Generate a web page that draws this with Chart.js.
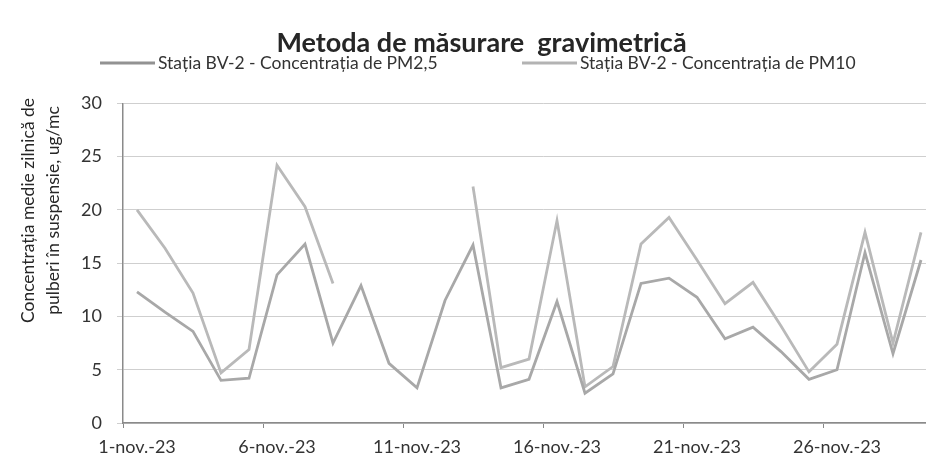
<!DOCTYPE html>
<html>
<head>
<meta charset="utf-8">
<script src="https://cdn.jsdelivr.net/npm/chart.js@4.4.1/dist/chart.umd.min.js"></script>
<style>
html,body{margin:0;padding:0;background:#fff;overflow:hidden;width:926px;height:460px}
canvas{display:block}
</style>
</head>
<body>
<canvas id="c" width="995" height="460"></canvas>
<script>
const categories = ['1-nov.-23','2-nov.-23','3-nov.-23','4-nov.-23','5-nov.-23','6-nov.-23','7-nov.-23','8-nov.-23','9-nov.-23','10-nov.-23',
  '11-nov.-23','12-nov.-23','13-nov.-23','14-nov.-23','15-nov.-23','16-nov.-23','17-nov.-23','18-nov.-23','19-nov.-23','20-nov.-23',
  '21-nov.-23','22-nov.-23','23-nov.-23','24-nov.-23','25-nov.-23','26-nov.-23','27-nov.-23','28-nov.-23','29-nov.-23','30-nov.-23'];
const pm25 = [12.3,10.4,8.6,4.0,4.2,13.9,16.8,7.5,12.9,5.6,3.3,11.5,16.7,3.3,4.1,11.4,2.8,4.6,13.1,13.6,11.8,7.9,9.0,6.7,4.1,5.0,16.0,6.5,15.3,null];
const pm10 = [20.0,16.4,12.2,4.7,6.9,24.2,20.3,13.1,null,null,null,null,22.2,5.2,6.0,19.0,3.4,5.3,16.8,19.3,15.3,11.2,13.2,9.1,4.8,7.4,17.9,7.5,17.9,null];
const seriesNames = ['Stația BV-2 - Concentrația de PM2,5','Stația BV-2 - Concentrația de PM10'];
const yTicks = [0,5,10,15,20,25,30];
const titleText = 'Metoda de măsurare  gravimetrică';
const yTitleLines = ['Concentrația medie zilnică de','pulberi în suspensie, ug/mc'];

const FONT = 'Lato, "Open Sans", sans-serif';

const legendPlugin = {
  id: 'customLegend',
  afterDraw(chart) {
    const ctx = chart.ctx;
    ctx.save();
    ctx.font = '17.5px ' + FONT;
    ctx.textBaseline = 'middle';
    ctx.textAlign = 'left';
    const starts = [100, 522];
    chart.data.datasets.forEach((ds, i) => {
      const x = starts[i], y = 63;
      ctx.strokeStyle = ds.legendColor;
      ctx.lineWidth = 3;
      ctx.beginPath(); ctx.moveTo(x, y); ctx.lineTo(x + 55, y); ctx.stroke();
      ctx.fillStyle = '#333';
      ctx.fillText(ds.label, x + 58, y);
    });
    ctx.restore();
  }
};

const yTitlePlugin = {
  id: 'yTitle',
  afterDraw(chart) {
    const ctx = chart.ctx;
    const a = chart.chartArea;
    ctx.save();
    ctx.font = '17.5px ' + FONT;
    ctx.fillStyle = '#262626';
    ctx.textAlign = 'center';
    ctx.textBaseline = 'middle';
    const cy = a.top + (a.bottom - a.top) * 0.335;
    const xs = [28, 53];
    yTitleLines.forEach((t, i) => {
      ctx.save();
      ctx.translate(xs[i], cy);
      ctx.rotate(-Math.PI / 2);
      ctx.fillText(t, 0, 0);
      ctx.restore();
    });
    ctx.restore();
  }
};

new Chart(document.getElementById('c'), {
  type: 'line',
  data: {
    labels: categories,
    datasets: [
      { label: seriesNames[0], data: pm25, borderColor: '#a8a8a8', legendColor: '#929292', borderWidth: 2.8, pointRadius: 0, tension: 0, spanGaps: false },
      { label: seriesNames[1], data: pm10, borderColor: '#b9b9b9', legendColor: '#b3b3b3', borderWidth: 2.8, pointRadius: 0, tension: 0, spanGaps: false }
    ]
  },
  options: {
    responsive: false,
    animation: false,
    devicePixelRatio: 1,
    layout: { padding: { left: 0, right: 32, top: 0, bottom: 0 } },
    plugins: {
      legend: { display: false },
      tooltip: { enabled: false },
      title: {
        display: true,
        text: titleText,
        color: '#262626',
        font: { family: FONT, size: 27, weight: 'bold' },
        padding: { top: 27, bottom: 44 }
      }
    },
    scales: {
      x: {
        offset: true,
        afterFit: (s) => { s.height = 37; },
        grid: {
          offset: true,
          drawOnChartArea: false,
          tickLength: 5,
          color: (c) => (c.index % 5 === 0 ? '#888' : 'rgba(0,0,0,0)')
        },
        border: { color: '#8a8a8a', width: 1.5 },
        ticks: {
          autoSkip: false,
          maxRotation: 0,
          padding: 8,
          color: '#333',
          font: { family: FONT, size: 18 },
          callback: function (v, i) { return i % 5 === 0 ? categories[i] : ''; }
        }
      },
      y: {
        min: yTicks[0],
        max: yTicks[yTicks.length - 1],
        afterFit: (s) => { s.width = 123; },
        afterBuildTicks: (s) => { s.ticks = yTicks.map(v => ({ value: v })); },
        grid: { color: '#cfcfcf', tickLength: 6, lineWidth: 1 },
        border: { color: '#8a8a8a', width: 1.5 },
        ticks: {
          padding: 15,
          color: '#333',
          font: { family: FONT, size: 18 }
        }
      }
    }
  },
  plugins: [legendPlugin, yTitlePlugin]
});
</script>
</body>
</html>
